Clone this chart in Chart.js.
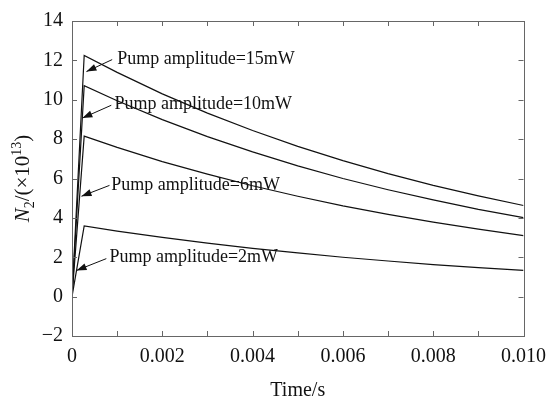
<!DOCTYPE html>
<html>
<head>
<meta charset="utf-8">
<script src="https://cdn.jsdelivr.net/npm/chart.js@4/dist/chart.umd.min.js"></script>
<style>
  html, body { margin:0; padding:0; background:#fff; }
  #box { width:555px; height:397px; }
</style>
</head>
<body>
<div id="box"><canvas id="chart" width="555" height="397"></canvas></div>
<script>
const times = [0, 0.00027, 0.001, 0.002, 0.003, 0.004, 0.005, 0.006, 0.007, 0.008, 0.009, 0.010]
const pump15 = [0, 12.25, 11.39, 10.30, 9.32, 8.44, 7.63, 6.91, 6.25, 5.65, 5.12, 4.63]
const pump10 = [0, 10.71, 9.95, 8.99, 8.13, 7.35, 6.64, 6.00, 5.43, 4.91, 4.43, 4.01]
const pump6 = [0, 8.15, 7.58, 6.86, 6.22, 5.63, 5.10, 4.61, 4.18, 3.78, 3.43, 3.10]
const pump2 = [0, 3.59, 3.33, 3.01, 2.72, 2.45, 2.22, 2.00, 1.81, 1.63, 1.47, 1.33]
const xTicks = [0, 0.001, 0.002, 0.003, 0.004, 0.005, 0.006, 0.007, 0.008, 0.009, 0.010]
const yTicks = [-2, 0, 2, 4, 6, 8, 10, 12, 14]
const notes = [
  {text:"Pump amplitude=15mW", at:[0.00100, 12.04], tail:[0.00089, 12.04], head:[0.00032, 11.43]},
  {text:"Pump amplitude=10mW", at:[0.00094, 9.77], tail:[0.00087, 9.72], head:[0.00023, 9.07]},
  {text:"Pump amplitude=6mW", at:[0.00087, 5.65], tail:[0.00083, 5.65], head:[0.00021, 5.10]},
  {text:"Pump amplitude=2mW", at:[0.00083, 1.98], tail:[0.00076, 1.93], head:[0.00010, 1.33]},
]

const serif = "'Liberation Serif', 'Times New Roman', serif"
const series = [pump15, pump10, pump6, pump2]

const frame = {
  id:"frame",
  afterDraw(chart) {
    const {ctx, chartArea:a, scales:{x, y}} = chart
    ctx.save()
    ctx.strokeStyle = "#666"
    ctx.lineWidth = 1
    ctx.beginPath()
    for (const v of xTicks) {
      const px = Math.round(x.getPixelForValue(v)) + 0.5
      ctx.moveTo(px, a.bottom); ctx.lineTo(px, a.bottom - 5)
      ctx.moveTo(px, a.top); ctx.lineTo(px, a.top + 5)
    }
    for (const v of yTicks) {
      const py = Math.round(y.getPixelForValue(v)) + 0.5
      ctx.moveTo(a.left, py); ctx.lineTo(a.left + 5, py)
      ctx.moveTo(a.right, py); ctx.lineTo(a.right - 5, py)
    }
    ctx.stroke()
    ctx.strokeRect(Math.round(a.left) + 0.5, Math.round(a.top) + 0.5, Math.round(a.right - a.left), Math.round(a.bottom - a.top))

    // notes with arrows
    ctx.fillStyle = "#111"
    ctx.strokeStyle = "#111"
    ctx.font = `18px ${serif}`
    ctx.textBaseline = "middle"
    ctx.textAlign = "left"
    for (const n of notes) {
      ctx.fillText(n.text, x.getPixelForValue(n.at[0]), y.getPixelForValue(n.at[1]))
      const tx = x.getPixelForValue(n.tail[0]), ty = y.getPixelForValue(n.tail[1])
      const hx = x.getPixelForValue(n.head[0]), hy = y.getPixelForValue(n.head[1])
      const ang = Math.atan2(hy - ty, hx - tx)
      ctx.beginPath()
      ctx.moveTo(tx, ty); ctx.lineTo(hx, hy)
      ctx.lineWidth = 1
      ctx.stroke()
      ctx.beginPath()
      ctx.moveTo(hx, hy)
      ctx.lineTo(hx - 10 * Math.cos(ang) + 3.5 * Math.sin(ang), hy - 10 * Math.sin(ang) - 3.5 * Math.cos(ang))
      ctx.lineTo(hx - 10 * Math.cos(ang) - 3.5 * Math.sin(ang), hy - 10 * Math.sin(ang) + 3.5 * Math.cos(ang))
      ctx.closePath()
      ctx.fill()
    }

    // y title: N2/(x10^13)
    const parts = [
      {t:"N", f:`italic 21px ${serif}`, dy:0},
      {t:"2", f:`14px ${serif}`, dy:5},
      {t:"/(\u00d710", f:`21px ${serif}`, dy:0},
      {t:"13", f:`14px ${serif}`, dy:-8},
      {t:")", f:`21px ${serif}`, dy:0},
    ]
    let total = 0
    for (const p of parts) { ctx.font = p.f; p.w = ctx.measureText(p.t).width; total += p.w }
    ctx.translate(22, (a.top + a.bottom) / 2)
    ctx.rotate(-Math.PI / 2)
    ctx.textBaseline = "alphabetic"
    let cx = -total / 2
    for (const p of parts) {
      ctx.font = p.f
      ctx.fillText(p.t, cx, 7 + p.dy)
      cx += p.w
    }
    ctx.restore()
  }
}

new Chart(document.getElementById("chart"), {
  type:"line",
  data:{
    datasets:series.map((s) => ({
      data:times.map((t, i) => ({x:t, y:s[i]})),
      borderColor:"#111",
      borderWidth:1.2,
      pointRadius:0,
      tension:0,
      fill:false,
    }))
  },
  options:{
    responsive:false,
    animation:false,
    layout:{padding:{top:18, right:26, left:0, bottom:0}},
    plugins:{legend:{display:false}, tooltip:{enabled:false}},
    scales:{
      x:{
        type:"linear",
        min:0,
        max:0.010,
        afterBuildTicks(scale) { scale.ticks = xTicks.map((value) => ({value})) },
        afterFit(scale) { scale.height = 61 },
        grid:{display:false, drawTicks:false},
        border:{display:false},
        ticks:{
          autoSkip:false,
          maxRotation:0,
          padding:9,
          color:"#111",
          font:{family:serif, size:20},
          callback:(v, i) => i % 2 ? "" : (v === 0 ? "0" : v.toFixed(3)),
        },
        title:{display:true, text:"Time/s", color:"#111", font:{family:serif, size:20}, padding:{top:0, bottom:-6}},
      },
      y:{
        min:-2,
        max:14,
        afterBuildTicks(scale) { scale.ticks = yTicks.map((value) => ({value})) },
        afterFit(scale) { scale.width = 72 },
        grid:{display:false, drawTicks:false},
        border:{display:false},
        ticks:{
          padding:9,
          color:"#111",
          font:{family:serif, size:20},
          callback:(v) => v < 0 ? "\u2212" + Math.abs(v) : String(v),
        },
      }
    }
  },
  plugins:[frame]
})
</script>
</body>
</html>
